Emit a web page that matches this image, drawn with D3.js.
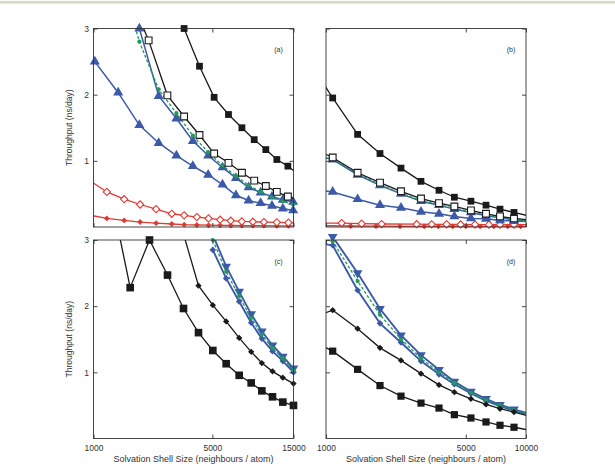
<!DOCTYPE html>
<html>
<head>
<meta charset="utf-8">
<script src="https://cdn.jsdelivr.net/npm/d3@7"></script>
<style>
body { margin: 0; background: #fff; }
text { font-family: "Liberation Sans", Arial, sans-serif; fill: #333; }
</style>
</head>
<body>
<div class="chart"></div>
<script>
//Shell sizes (neighbours / atom) and throughput (ns/day)
//panel (a)
var aGridSq = [1600, 2110, 2720, 3410, 4200, 5120, 6220, 7460, 8810, 10310, 11970, 13900, 15900];
var aSqFill = [null, null, null, 3.0, 2.43, 1.96, 1.70, 1.50, 1.32, 1.17, 1.02, 0.92, 0.80];
var aSqOpen = [3.55, 2.82, 1.99, 1.67, 1.39, 1.11, 0.97, 0.82, 0.70, 0.62, 0.53, 0.46, 0.42];
var aGridTri = [1018, 1397, 1861, 2417, 3074, 3840, 4725, 5735, 6881, 8169, 9609, 11209, 12978, 14923];
var aGreen = [null, 3.9, 2.80, 2.08, 1.72, 1.38, 1.13, 0.93, 0.77, 0.63, 0.53, 0.45, 0.39, 0.34];
var aBlueUp = [null, null, 3.0, 1.98, 1.64, 1.30, 1.08, 0.90, 0.74, 0.60, 0.52, 0.46, 0.41, 0.38];
var aBlueLow = [2.50, 2.03, 1.54, 1.27, 1.08, 0.92, 0.79, 0.64, 0.48, 0.40, 0.36, 0.32, 0.28, 0.25];
var aGridRed = [950, 1198, 1515, 1880, 2335, 2887, 3413, 4053, 4747, 5556, 6415, 7450, 8650, 10050, 11970, 14000, 16000];
var aRedOpen = [0.70, 0.53, 0.42, 0.34, 0.27, 0.20, 0.176, 0.15, 0.13, 0.11, 0.095, 0.085, 0.08, 0.075, 0.07, 0.065, 0.06];
var aRedFill = [0.18, 0.13, 0.10, 0.075, 0.058, 0.045, 0.035, 0.03, 0.027, 0.025, 0.023, 0.022, 0.02, 0.02, 0.018, 0.017, 0.016];

//panel (b)
var bGrid = [920, 1080, 1439, 1862, 2371, 2985, 3673, 4384, 5305, 6310, 7413, 8710, 10230];
var bSqFill = [2.28, 1.95, 1.40, 1.11, 0.89, 0.69, 0.555, 0.45, 0.39, 0.33, 0.27, 0.22, 0.17];
var bSqOpen = [1.15, 1.05, 0.82, 0.67, 0.54, 0.43, 0.36, 0.31, 0.25, 0.20, 0.16, 0.13, 0.11];
var bGreen = [1.08, 1.03, 0.81, 0.64, 0.51, 0.40, 0.34, 0.28, 0.23, 0.18, 0.15, 0.11, 0.09];
var bBlueUp = [1.07, 1.02, 0.79, 0.63, 0.50, 0.39, 0.33, 0.27, 0.22, 0.17, 0.14, 0.11, 0.09];
var bBlueLow = [0.56, 0.53, 0.42, 0.33, 0.29, 0.23, 0.20, 0.16, 0.13, 0.125, 0.10, 0.09, 0.08];
var bGridRed = [920, 1197, 1507, 1898, 2840, 3375, 4008, 4710, 5560, 6530, 7413, 8710, 10230];
var bRedOpen = [0.06, 0.06, 0.05, 0.045, 0.042, 0.04, 0.04, 0.038, 0.036, 0.035, 0.035, 0.035, 0.035];
var bGridRed2 = [920, 1328, 1778, 2344, 3100, 3645, 4300, 5000, 5900, 6900, 8100, 9400, 10230];
var bRedFill = [0.02, 0.015, 0.012, 0.01, 0.01, 0.01, 0.01, 0.01, 0.01, 0.01, 0.01, 0.01, 0.01];

//panel (c)
var cGrid = [1300, 1643, 2135, 2724, 3383, 4144, 5031, 6027, 7188, 8456, 9770, 11288, 12985, 15000];
var cSqFill = [3.55, 2.28, 3.0, 2.47, 1.965, 1.60, 1.33, 1.13, 0.955, 0.84, 0.72, 0.63, 0.55, 0.50];
var cDiamond = [null, null, null, null, 3.09, 2.31, 2.015, 1.77, 1.52, 1.31, 1.14, 1.015, 0.92, 0.83];
var cBlueUp = [null, null, null, null, null, null, 3.08, 2.60, 2.22, 1.88, 1.62, 1.41, 1.24, 1.06];
var cGreen = [null, null, null, null, null, null, 3.0, 2.52, 2.15, 1.82, 1.57, 1.37, 1.21, 1.03];
var cBlueLow = [null, null, null, null, null, null, 2.85, 2.42, 2.07, 1.75, 1.51, 1.32, 1.17, 1.00];

//panel (d)
var dGrid = [920, 1080, 1439, 1862, 2371, 2985, 3673, 4384, 5305, 6310, 7413, 8710, 10230];
var dSqFill = [1.43, 1.32, 1.045, 0.80, 0.64, 0.535, 0.46, 0.36, 0.31, 0.25, 0.20, 0.17, 0.13];
var dDiamond = [1.86, 1.94, 1.66, 1.37, 1.18, 0.98, 0.81, 0.70, 0.60, 0.515, 0.45, 0.40, 0.34];
var dBlueUp = [3.2, 3.05, 2.50, 1.96, 1.56, 1.26, 1.04, 0.86, 0.71, 0.60, 0.51, 0.44, 0.38];
var dGreen = [3.1, 2.98, 2.38, 1.87, 1.50, 1.21, 1.00, 0.84, 0.69, 0.58, 0.50, 0.43, 0.37];
var dBlueLow = [2.95, 2.92, 2.24, 1.74, 1.45, 1.17, 0.97, 0.82, 0.68, 0.57, 0.49, 0.42, 0.36];

//Tick labels
var yTicks = [1, 2, 3];
var xTicksLeft = [1000, 5000, 15000];
var xTicksRight = [1000, 5000, 10000];

//Colours
var black = "#1a1a1a", blue = "#3c5aa8", green = "#1f9b58", red = "#e03a32";

//Panel geometry
var svgWidth = 615, svgHeight = 472;
var panelW = 200, panelH = 198.5;
var leftX = 93.5, rightX = 326, topY = 28.5, botY = 240;

var svg = d3.select(".chart")
    .append("svg")
    .attr("width", svgWidth)
    .attr("height", svgHeight);

svg.append("rect").attr("width", svgWidth).attr("height", svgHeight).attr("fill", "#fff");
svg.append("rect").attr("x", 0).attr("y", 1).attr("width", svgWidth).attr("height", 2.6).attr("fill", "#d9d9c5");

//Series styles
function sqFill(n, v, size) { return {n: n, v: v, color: black, w: 1.3, marker: d3.symbolSquare, size: size || 46, fill: black}; }
function sqOpen(n, v) { return {n: n, v: v, color: black, w: 1.3, marker: d3.symbolSquare, size: 46, fill: "#fff", stroke: black}; }
function greenDash(n, v) { return {n: n, v: v, color: green, w: 1.3, dash: "3,2", marker: d3.symbolCircle, size: 14, fill: green}; }
function blueTri(n, v) { return {n: n, v: v, color: blue, w: 1.5, marker: d3.symbolTriangle, size: 44, fill: blue}; }
function blueTriDown(n, v) { return {n: n, v: v, color: blue, w: 1.9, marker: d3.symbolTriangle, rot: 180, size: 40, fill: blue}; }
function blueDiam(n, v) { return {n: n, v: v, color: blue, w: 1.9, marker: d3.symbolSquare, rot: 45, size: 22, fill: blue}; }
function blackDiam(n, v) { return {n: n, v: v, color: black, w: 1.3, marker: d3.symbolSquare, rot: 45, size: 20, fill: black}; }
function redOpen(n, v) { return {n: n, v: v, color: red, w: 1.3, marker: d3.symbolSquare, rot: 45, size: 26, fill: "#fff", stroke: red}; }
function redFill(n, v) { return {n: n, v: v, color: red, w: 1.3, marker: d3.symbolSquare, rot: 45, size: 17, fill: red}; }

var panels = [
    {id: "a", x: leftX, y: topY, xMax: 15000, ticks: xTicksLeft, showX: false, showY: true,
     series: [redFill(aGridRed, aRedFill), redOpen(aGridRed, aRedOpen), blueTri(aGridTri, aBlueLow),
              blueTri(aGridTri, aBlueUp), greenDash(aGridTri, aGreen), sqOpen(aGridSq, aSqOpen), sqFill(aGridSq, aSqFill)]},
    {id: "b", x: rightX, y: topY, xMax: 10000, ticks: xTicksRight, showX: false, showY: false,
     series: [redFill(bGridRed2, bRedFill), redOpen(bGridRed, bRedOpen), blueTri(bGrid, bBlueLow),
              blueTri(bGrid, bBlueUp), greenDash(bGrid, bGreen), sqOpen(bGrid, bSqOpen), sqFill(bGrid, bSqFill)]},
    {id: "c", x: leftX, y: botY, xMax: 15000, ticks: xTicksLeft, showX: true, showY: true,
     series: [blueTriDown(cGrid, cBlueUp), blueDiam(cGrid, cBlueLow), greenDash(cGrid, cGreen),
              blackDiam(cGrid, cDiamond), sqFill(cGrid, cSqFill, 58)]},
    {id: "d", x: rightX, y: botY, xMax: 10000, ticks: xTicksRight, showX: true, showY: false,
     series: [blueTriDown(dGrid, dBlueUp), blueDiam(dGrid, dBlueLow), greenDash(dGrid, dGreen),
              blackDiam(dGrid, dDiamond), sqFill(dGrid, dSqFill, 52)]}
];

panels.forEach(function(p) {
    var g = svg.append("g").attr("transform", `translate(${p.x}, ${p.y})`);

    var xScale = d3.scaleLog().domain([1000, p.xMax]).range([0, panelW]);
    var yScale = d3.scaleLinear().domain([0, 3]).range([panelH, 0]);

    g.append("clipPath").attr("id", "clip-" + p.id)
        .append("rect").attr("width", panelW).attr("height", panelH);

    var line = d3.line()
        .x(d => xScale(d[0]))
        .y(d => yScale(d[1]));

    p.series.forEach(function(s) {
        var pts = s.n.map((n, i) => [n, s.v[i]]).filter(d => d[1] != null);

        g.append("path")
            .datum(pts)
            .attr("clip-path", `url(#clip-${p.id})`)
            .attr("fill", "none")
            .attr("stroke", s.color)
            .attr("stroke-width", s.w)
            .attr("stroke-dasharray", s.dash || null)
            .attr("d", line);

        var shown = pts.filter(d => d[0] >= 990 && d[0] <= p.xMax * 1.01 && d[1] <= 3.05);
        g.selectAll(null).data(shown).enter()
            .append("path")
            .attr("transform", d => `translate(${xScale(d[0])}, ${yScale(d[1])}) rotate(${s.rot || 0})`)
            .attr("d", d3.symbol().type(s.marker).size(s.size))
            .attr("fill", s.fill)
            .attr("stroke", s.stroke || "none")
            .attr("stroke-width", 1.1);
    });

    //Frame
    g.append("rect")
        .attr("width", panelW).attr("height", panelH)
        .attr("fill", "none").attr("stroke", "#333").attr("stroke-width", 0.9);

    //Inward ticks on all four sides
    g.append("g")
        .call(d3.axisLeft(yScale).tickValues(yTicks).tickSize(-4).tickPadding(4.5)
            .tickFormat(p.showY ? d3.format("d") : ""));
    g.append("g").attr("transform", `translate(${panelW}, 0)`)
        .call(d3.axisRight(yScale).tickValues(yTicks).tickSize(-4).tickFormat(""));
    g.append("g").attr("transform", `translate(0, ${panelH})`)
        .call(d3.axisBottom(xScale).tickValues(p.ticks).tickSize(-4).tickPadding(6)
            .tickFormat(p.showX ? d3.format("d") : ""));
    g.append("g")
        .call(d3.axisTop(xScale).tickValues(p.ticks).tickSize(-4).tickFormat(""));

    g.selectAll(".domain").remove();
    g.selectAll(".tick line").attr("stroke", "#333").attr("stroke-width", 0.9);
    g.selectAll(".tick text").attr("font-size", "8.5px").attr("fill", "#333")
        .attr("font-family", "'Liberation Sans', Arial, sans-serif");

    //Panel letter
    g.append("text")
        .attr("x", panelW - 15).attr("y", 23.5)
        .attr("text-anchor", "middle")
        .attr("font-size", "7px")
        .attr("fill", "#333")
        .text(`(${p.id})`);

    //Axes Labels
    if (p.showY) {
        g.append("text")
            .attr("transform", `translate(${71.5 - p.x}, ${panelH / 2}) rotate(-90)`)
            .attr("text-anchor", "middle")
            .attr("font-size", "8.5px")
            .attr("fill", "#333")
            .text("Throughput (ns/day)");
    }
    if (p.showX) {
        g.append("text")
            .attr("transform", `translate(${panelW / 2}, ${panelH + 23})`)
            .attr("text-anchor", "middle")
            .attr("font-size", "9px")
            .attr("fill", "#333")
            .text("Solvation Shell Size (neighbours / atom)");
    }
});
</script>
</body>
</html>
